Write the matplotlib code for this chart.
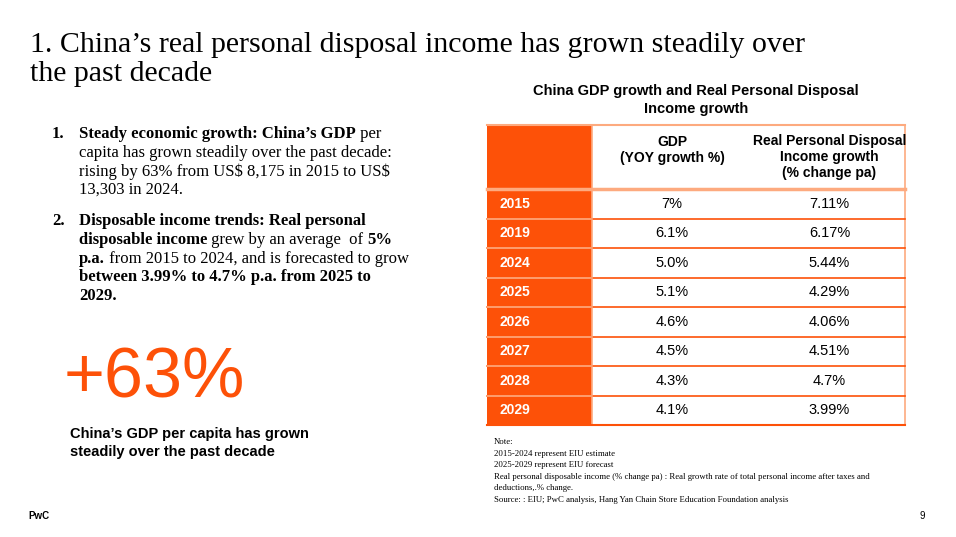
import matplotlib
matplotlib.use("Agg")
import matplotlib.pyplot as plt
from matplotlib.patches import Rectangle

plt.rcParams["text.parse_math"] = False

years = ["2015", "2019", "2024", "2025", "2026", "2027", "2028", "2029"]
gdp = ["7%", "6.1%", "5.0%", "5.1%", "4.6%", "4.5%", "4.3%", "4.1%"]
rpdi = ["7.11%", "6.17%", "5.44%", "4.29%", "4.06%", "4.51%", "4.7%", "3.99%"]
col_headers = ["GDP\n(YOY growth %)", "Real Personal Disposal\nIncome growth\n(% change pa)"]

ORANGE = "#fd5108"
LIGHT = "#fdaa7f"
SERIF = "Liberation Serif"
SANS = "Liberation Sans"

fig = plt.figure(figsize=(9.56, 5.37), dpi=100)
ax = fig.add_axes([0, 0, 1, 1])
ax.set_xlim(0, 956); ax.set_ylim(537, 0); ax.axis("off")

ax.text(30, 45, "1. China’s real personal disposal income has grown steadily over",
        family=SERIF, fontsize=21.5, va="center", color="#000")
ax.text(30, 74, "the past decade", family=SERIF, fontsize=21.5, va="center", color="#000")

fig.canvas.draw()
r = fig.canvas.get_renderer()
BS = 12.0
def seg_line(x, y, parts, size=BS):
    for txt, bold in parts:
        t = ax.text(x, y, txt, family=SERIF, fontsize=size, weight="bold" if bold else "normal",
                    va="center", ha="left")
        bb = t.get_window_extent(renderer=r)
        x += bb.width
ax.text(52, 134, "1.", family=SERIF, fontsize=BS, weight="bold", va="center")
ax.text(52, 221, "2.", family=SERIF, fontsize=BS, weight="bold", va="center")
lines = [
    (134, [("Steady economic growth: China’s GDP", True), (" per", False)]),
    (153, [("capita has grown steadily over the past decade:", False)]),
    (172, [("rising by 63% from US$ 8,175 in 2015 to US$", False)]),
    (190, [("13,303 in 2024.", False)]),
    (221, [("Disposable income trends: Real personal", True)]),
    (240, [("disposable income", True), (" grew by an average  of ", False), ("5%", True)]),
    (259, [("p.a.", True), (" from 2015 to 2024, and is forecasted to grow", False)]),
    (277, [("between 3.99% to 4.7% p.a. from 2025 to", True)]),
    (296, [("2029.", True)]),
]
for y, parts in lines:
    seg_line(79, y, parts)

ax.text(64, 380, "+63%", family=SANS, fontsize=50.5, color=ORANGE, va="center", ha="left")
ax.text(70, 443, "China’s GDP per capita has grown\nsteadily over the past decade",
        family=SANS, fontsize=10.5, weight="bold", va="center", linespacing=1.3)

ax.text(696, 100, "China GDP growth and Real Personal Disposal\nIncome growth",
        family=SANS, fontsize=10.5, weight="bold", va="center", ha="center", linespacing=1.3)

# table
x0, x1, x2, x3 = 487, 592, 752, 905
hy0, hy1 = 125, 189
rh = (425 - hy1) / len(years)
ax.add_patch(Rectangle((x0, hy0), x1 - x0, 425 - hy0, color=ORANGE, lw=0))
ax.add_patch(Rectangle((x1, hy0), x3 - x1, 425 - hy0, facecolor="white", edgecolor=LIGHT, lw=1.2))
ax.plot([x0, x3], [hy0, hy0], color=LIGHT, lw=1.5)
ax.plot([x0, x3], [hy1, hy1], color=LIGHT, lw=2.5)
ax.text((x1 + x2) / 2, 150, col_headers[0], family=SANS, fontsize=10, weight="bold",
        ha="center", va="center", linespacing=1.2)
ax.text((x2 + x3) / 2 + 1, 157, col_headers[1], family=SANS, fontsize=10, weight="bold",
        ha="center", va="center", linespacing=1.2)
for i, (yr, g, p) in enumerate(zip(years, gdp, rpdi)):
    yc = hy1 + rh * (i + 0.5)
    if i > 0:
        ax.plot([x0, x3], [hy1 + rh * i] * 2, color=ORANGE, lw=1.2)
        ax.plot([x0, x1], [hy1 + rh * i] * 2, color=LIGHT, lw=1.2)
    ax.text(500, yc, yr, family=SANS, fontsize=10, weight="bold", color="white", va="center")
    ax.text((x1 + x2) / 2, yc, g, family=SANS, fontsize=10.5, ha="center", va="center")
    ax.text((x2 + x3) / 2 + 1, yc, p, family=SANS, fontsize=10.5, ha="center", va="center")
ax.plot([x0, x3], [425, 425], color=ORANGE, lw=1.5)

notes = ["Note:", "2015-2024 represent EIU estimate", "2025-2029 represent EIU forecast",
         "Real personal disposable income (% change pa) : Real growth rate of total personal income after taxes and",
         "deductions,.% change.",
         "Source: : EIU; PwC analysis, Hang Yan Chain Store Education Foundation analysis"]
for i, n in enumerate(notes):
    ax.text(494, 442 + i * 11.6, n, family=SERIF, fontsize=6.3, va="center")

ax.text(28, 516, "PwC", family=SANS, fontsize=7, weight="bold", va="center")
ax.text(925, 516, "9", family=SANS, fontsize=7, va="center", ha="right")

fig.savefig("out.png", dpi=100)
